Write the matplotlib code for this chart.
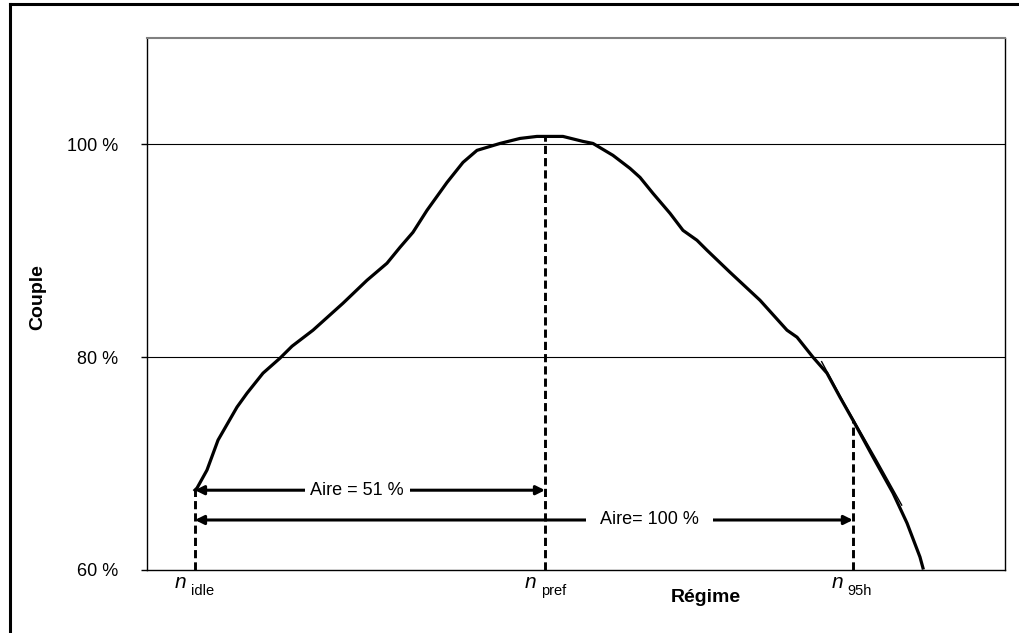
import matplotlib.pyplot as plt
from matplotlib.lines import Line2D

plt.rcParams['font.family'] = ['Liberation Sans', 'DejaVu Sans']

# courbe de couple (regime en % de l'echelle, couple en %)
regime = [5.59, 5.83, 6.99, 8.28, 10.49, 11.66, 13.52, 15.50, 16.90, 19.35,
          22.84, 25.64, 27.97, 29.49, 31.00, 32.63, 34.97, 36.83, 38.46, 41.14,
          43.47, 45.45, 48.48, 50.82, 51.98, 54.31, 56.29, 57.46, 58.97, 60.96,
          62.47, 64.10, 65.27, 67.95, 71.45, 74.59, 75.76, 77.62, 79.25, 80.77,
          82.28, 84.62, 86.95, 88.58, 90.09, 90.44]
couple = [67.51, 67.70, 69.39, 72.21, 75.31, 76.62, 78.50, 79.91, 81.03, 82.54,
          85.07, 87.23, 88.83, 90.33, 91.74, 93.80, 96.43, 98.31, 99.44, 100.09,
          100.56, 100.75, 100.75, 100.28, 100.09, 98.97, 97.75, 96.90, 95.40, 93.52,
          91.92, 90.99, 90.05, 87.98, 85.35, 82.54, 81.88, 80.00, 78.50, 76.24,
          74.08, 70.61, 67.23, 64.41, 61.22, 60.19]

# trait fin superpose pres de n95h
regime2 = [78.63, 81.16, 85.04, 87.96]
couple2 = [79.58, 75.80, 70.33, 66.10]

# regimes caracteristiques
n_idle, n_pref, n_95h = 5.59, 46.39, 82.28
c_idle, c_pref, c_95h = 67.6, 100.75, 74.1
y_aire51, y_aire100 = 67.5, 64.7

yticks = [60, 80, 100]
ylabels = ['60 %', '80 %', '100 %']

fig = plt.figure(figsize=(10.19, 6.33), dpi=100)
ax = fig.add_axes([147 / 1019, 1 - 570 / 633, (1005 - 147) / 1019, (570 - 38) / 633])

ax.set_xlim(0, 100)
ax.set_ylim(60, 110)
ax.set_yticks(yticks)
ax.set_yticklabels(ylabels, fontsize=13)
ax.set_xticks([])
ax.tick_params(axis='y', direction='out', length=4, width=1, pad=17)
for y in [80, 100]:
    ax.axhline(y, color='black', lw=0.8, zorder=1)

for s in ['left', 'right', 'bottom']:
    ax.spines[s].set_color('black')
    ax.spines[s].set_linewidth(1.0)
ax.spines['top'].set_color('#808080')
ax.spines['top'].set_linewidth(1.5)

ax.plot(regime, couple, color='black', lw=2.3, zorder=3, solid_joinstyle='round')
ax.plot(regime2, couple2, color='black', lw=1, zorder=3)

for xv, yv in [(n_idle, c_idle), (n_pref, c_pref), (n_95h, c_95h)]:
    ax.plot([xv, xv], [60, yv], color='black', lw=2.1, ls=(0, (2.8, 1.4)), zorder=2)

# fleches d'aire
arrow = dict(arrowstyle='<|-|>', color='black', lw=2.2, mutation_scale=13,
             shrinkA=0, shrinkB=0)
ax.annotate('', xy=(n_pref, y_aire51), xytext=(n_idle, y_aire51), arrowprops=arrow)
ax.annotate('', xy=(n_95h, y_aire100), xytext=(n_idle, y_aire100), arrowprops=arrow)
ax.text(24.5, y_aire51, 'Aire = 51 %', fontsize=13, ha='center', va='center',
        bbox=dict(facecolor='white', edgecolor='none', pad=4), zorder=4)
ax.text(58.6, y_aire100, 'Aire= 100 %', fontsize=13, ha='center', va='center',
        bbox=dict(facecolor='white', edgecolor='none', pad=10), zorder=4)

# etiquettes n
for xv, sub, off in [(n_idle, 'idle', -3), (n_pref, 'pref', -3), (n_95h, '95h', -4)]:
    ax.annotate('n', xy=(xv, 60), xytext=(off - 3, -13), textcoords='offset points',
                fontsize=15, style='italic', ha='right', va='baseline',
                annotation_clip=False)
    ax.annotate(sub, xy=(xv, 60), xytext=(off, -18),
                textcoords='offset points', fontsize=10.5, ha='left', va='baseline',
                annotation_clip=False)

fig.text(706 / 1019, 1 - 597 / 633, 'Régime', fontsize=14, fontweight='bold',
         ha='center', va='center')
fig.text(38 / 1019, 1 - 297 / 633, 'Couple', fontsize=14, fontweight='bold',
         ha='center', va='center', rotation=90)

# cadre exterieur
fig.add_artist(Line2D([10 / 1019, 10 / 1019], [0, 1 - 4 / 633], color='black', lw=2.2))
fig.add_artist(Line2D([10 / 1019, 1], [1 - 4 / 633, 1 - 4 / 633], color='black', lw=2.2))

fig.savefig('out.png', dpi=100)
